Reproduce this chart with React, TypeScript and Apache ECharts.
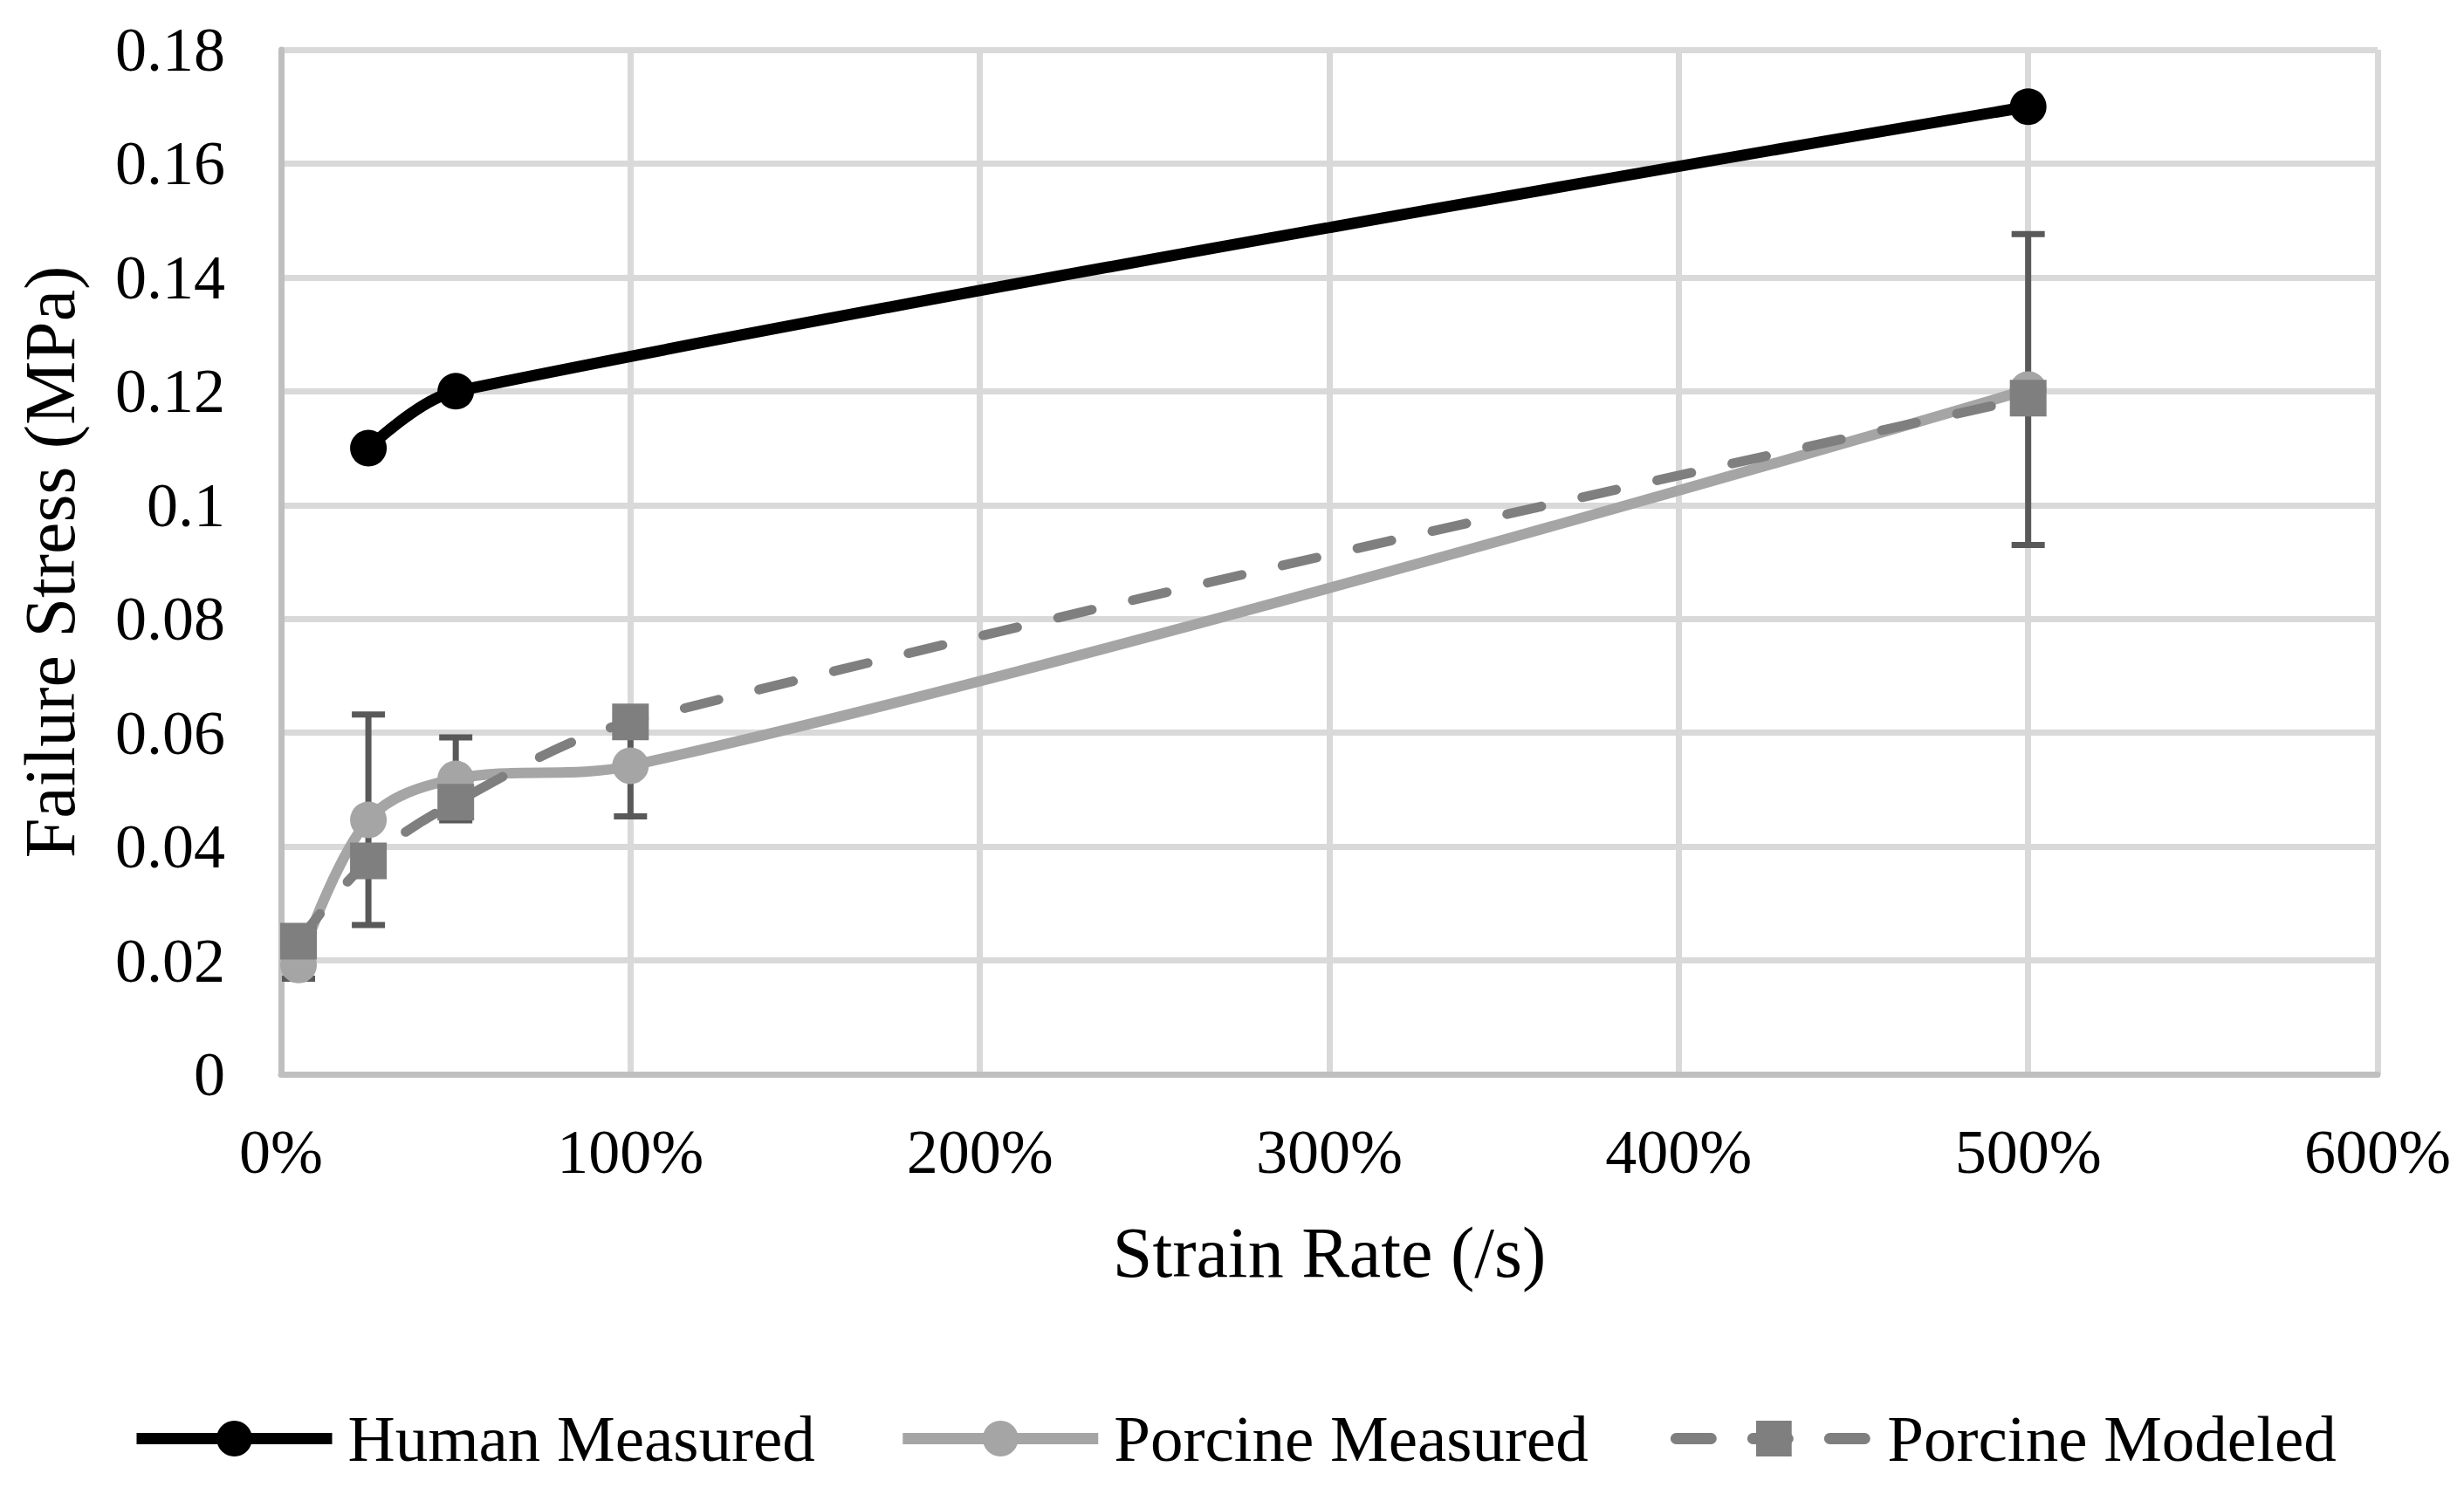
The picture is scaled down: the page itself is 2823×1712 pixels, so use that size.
import React, { useEffect, useRef } from "react";
import * as echarts from "echarts";

const FONT = '"Liberation Serif", "Times New Roman", serif';

const seriesNames = ["Human Measured", "Porcine Measured", "Porcine Modeled"];
const strainRates = [5, 25, 50, 100, 500];
const humanRates = [25, 50, 500];
const humanStress = [0.11, 0.12, 0.17];
const porcineMeasured = [0.0192, 0.0447, 0.0519, 0.0542, 0.1203];
const porcineModeled = [0.0234, 0.0375, 0.0478, 0.0619, 0.1188];
const porcineError = [0.0024, 0.0185, 0.0073, 0.0089, 0.0273];

export default function App() {
  const ref = useRef<HTMLDivElement>(null);

  useEffect(() => {
    document.body.style.margin = "0";
    if (!ref.current) return;
    const chart = echarts.init(ref.current, null, { renderer: "svg" });

    const option = {
      animation: false,
      backgroundColor: "#ffffff",
      textStyle: { fontFamily: FONT, color: "#000" },
      grid: { left: 322, right: 99, top: 57, bottom: 481, containLabel: false },
      legend: {
        data: seriesNames.map((n) => ({ name: n })),
        left: 145,
        top: 1606,
        itemWidth: 224,
        itemHeight: 51,
        itemGap: 94,
        lineStyle: { width: 13 },
        textStyle: { fontSize: 75, color: "#000", fontFamily: FONT, padding: [0, 0, 0, 13] },
      },
      xAxis: {
        type: "value",
        min: 0,
        max: 600,
        interval: 100,
        axisLine: { show: true, onZero: false, lineStyle: { color: "#bfbfbf", width: 7 } },
        axisTick: { show: false },
        splitLine: { show: true, lineStyle: { color: "#d9d9d9", width: 7 } },
        axisLabel: { formatter: "{value}%", fontSize: 72, color: "#000", fontFamily: FONT, margin: 53 },
        name: "Strain Rate (/s)",
        nameLocation: "middle",
        nameGap: 163,
        nameTextStyle: { fontSize: 82, color: "#000", fontFamily: FONT },
      },
      yAxis: {
        type: "value",
        min: 0,
        max: 0.18,
        interval: 0.02,
        axisLine: { show: true, onZero: false, lineStyle: { color: "#bfbfbf", width: 7 } },
        axisTick: { show: false },
        splitLine: { show: true, lineStyle: { color: "#d9d9d9", width: 7 } },
        axisLabel: { fontSize: 72, color: "#000", fontFamily: FONT, margin: 64 },
        name: "Failure Stress (MPa)",
        nameLocation: "middle",
        nameGap: 224,
        nameRotate: 90,
        nameTextStyle: { fontSize: 82, color: "#000", fontFamily: FONT },
      },
      series: [
        {
          type: "custom",
          name: "errors",
          z: 1,
          encode: { x: 0, y: 1 },
          data: strainRates.map((x, i) => [x, porcineMeasured[i], porcineError[i]]),
          renderItem: (params: any, api: any) => {
            const x = api.value(0);
            const y = api.value(1);
            const e = api.value(2);
            const top = api.coord([x, y + e]);
            const bot = api.coord([x, y - e]);
            const style = { stroke: "#595959", lineWidth: 7 };
            return {
              type: "group",
              children: [
                { type: "line", shape: { x1: top[0], y1: top[1], x2: bot[0], y2: bot[1] }, style },
                { type: "line", shape: { x1: top[0] - 19, y1: top[1], x2: top[0] + 19, y2: top[1] }, style },
                { type: "line", shape: { x1: bot[0] - 19, y1: bot[1], x2: bot[0] + 19, y2: bot[1] }, style },
              ],
            };
          },
        },
        {
          type: "line",
          name: seriesNames[0],
          data: humanRates.map((x, i) => [x, humanStress[i]]),
          smooth: 0.35,
          symbol: "circle",
          symbolSize: 42,
          lineStyle: { color: "#000000", width: 13 },
          itemStyle: { color: "#000000", borderWidth: 0 },
        },
        {
          type: "line",
          name: seriesNames[1],
          data: strainRates.map((x, i) => [x, porcineMeasured[i]]),
          smooth: 0.35,
          symbol: "circle",
          symbolSize: 42,
          lineStyle: { color: "#a5a5a5", width: 12 },
          itemStyle: { color: "#a5a5a5", borderWidth: 0 },
        },
        {
          type: "line",
          name: seriesNames[2],
          data: strainRates.map((x, i) => [x, porcineModeled[i]]),
          smooth: 0.35,
          symbol: "rect",
          symbolSize: 42,
          lineStyle: { color: "#7f7f7f", width: 11, type: [40, 48], cap: "round" },
          itemStyle: { color: "#7f7f7f", borderWidth: 0 },
        },
      ],
    };

    chart.setOption(option as any);
    return () => chart.dispose();
  }, []);

  return <div ref={ref} style={{ width: 2823, height: 1712 }} />;
}
